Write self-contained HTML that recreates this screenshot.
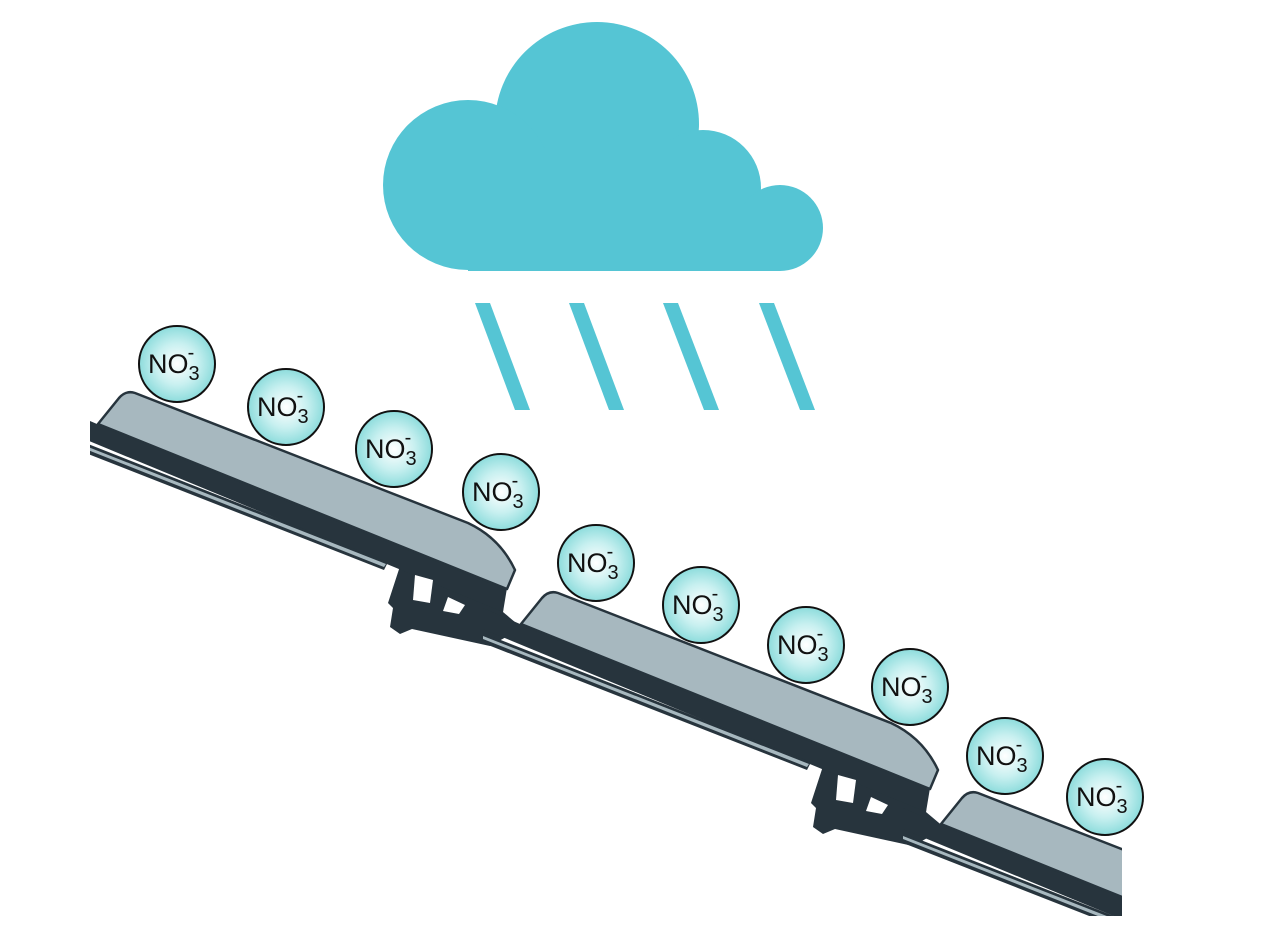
<!DOCTYPE html>
<html><head><meta charset="utf-8"><style>
html,body{margin:0;padding:0;background:#fff;overflow:hidden;}
svg{display:block;}
text{font-family:"Liberation Sans","DejaVu Sans",sans-serif;fill:#111;}
</style></head><body>
<svg width="1272" height="930" viewBox="0 0 1272 930" xmlns="http://www.w3.org/2000/svg">
<defs>
<radialGradient id="g" cx="50%" cy="50%" r="50%">
<stop offset="0" stop-color="#ffffff"/><stop offset="0.55" stop-color="#c8f0f0"/><stop offset="1" stop-color="#8ddcdc"/>
</radialGradient>
<clipPath id="c1"><rect x="90" y="0" width="1200" height="930"/></clipPath>
<clipPath id="c3"><rect x="0" y="0" width="1122" height="916"/></clipPath>
<g id="tile">
<polygon fill="#27343d" points="402,560 388,603 393,608 390,627 400,634 412,629 490,646 522,628 503,612 505,588 420,560"/>
<polygon fill="#27343d" points="60,408 97,424 507,588 503,612 60,429"/>
<polygon fill="#27343d" points="60,433 388,562 384,570 60,443"/>
<polygon fill="#a7b8bf" points="60,436 386,564 384,567 60,439"/>
<path fill="#a7b8bf" stroke="#27343d" stroke-width="2.5" stroke-linejoin="round" d="M98,424 L119,398 Q126,390 135,393 L468,523 Q500,538 515,570 L507,589 Z"/>
<polygon fill="#fff" points="415,575 433,580 430,603 413,600"/>
<polygon fill="#fff" points="448,597 465,605 459,614 443,611"/>
</g>
</defs>

<g fill="#55c5d4">
<circle cx="597" cy="124" r="102"/>
<circle cx="468" cy="185" r="85"/>
<circle cx="703" cy="188" r="58"/>
<circle cx="780" cy="228" r="43"/>
<rect x="468" y="150" width="270" height="121"/>
<rect x="700" y="205" width="80" height="66"/>
</g>
<g fill="#55c5d4">
<polygon points="475,303 490,303 530,410 515,410"/>
<polygon points="569,303 584,303 624,410 609,410"/>
<polygon points="663,303 678,303 719,410 704,410"/>
<polygon points="759,303 774,303 815,410 800,410"/>
</g>

<g clip-path="url(#c1)"><use href="#tile"/></g>
<use href="#tile" transform="translate(423,200)"/>
<g clip-path="url(#c3)"><use href="#tile" transform="translate(843,400)"/></g>

<g stroke="#111" stroke-width="2" fill="url(#g)">
<circle cx="177" cy="364" r="38"/>
<circle cx="286" cy="407" r="38"/>
<circle cx="394" cy="449" r="38"/>
<circle cx="501" cy="492" r="38"/>
<circle cx="596" cy="563" r="38"/>
<circle cx="701" cy="605" r="38"/>
<circle cx="806" cy="645" r="38"/>
<circle cx="910" cy="687" r="38"/>
<circle cx="1005" cy="756" r="38"/>
<circle cx="1105" cy="797" r="38"/>
</g>
<g font-size="27">
<text x="148" y="373">NO<tspan font-size="20" dy="7">3</tspan><tspan font-size="20" dx="-12" dy="-21">-</tspan></text>
<text x="257" y="416">NO<tspan font-size="20" dy="7">3</tspan><tspan font-size="20" dx="-12" dy="-21">-</tspan></text>
<text x="365" y="458">NO<tspan font-size="20" dy="7">3</tspan><tspan font-size="20" dx="-12" dy="-21">-</tspan></text>
<text x="472" y="501">NO<tspan font-size="20" dy="7">3</tspan><tspan font-size="20" dx="-12" dy="-21">-</tspan></text>
<text x="567" y="572">NO<tspan font-size="20" dy="7">3</tspan><tspan font-size="20" dx="-12" dy="-21">-</tspan></text>
<text x="672" y="614">NO<tspan font-size="20" dy="7">3</tspan><tspan font-size="20" dx="-12" dy="-21">-</tspan></text>
<text x="777" y="654">NO<tspan font-size="20" dy="7">3</tspan><tspan font-size="20" dx="-12" dy="-21">-</tspan></text>
<text x="881" y="696">NO<tspan font-size="20" dy="7">3</tspan><tspan font-size="20" dx="-12" dy="-21">-</tspan></text>
<text x="976" y="765">NO<tspan font-size="20" dy="7">3</tspan><tspan font-size="20" dx="-12" dy="-21">-</tspan></text>
<text x="1076" y="806">NO<tspan font-size="20" dy="7">3</tspan><tspan font-size="20" dx="-12" dy="-21">-</tspan></text>
</g>
</svg>
</body></html>
